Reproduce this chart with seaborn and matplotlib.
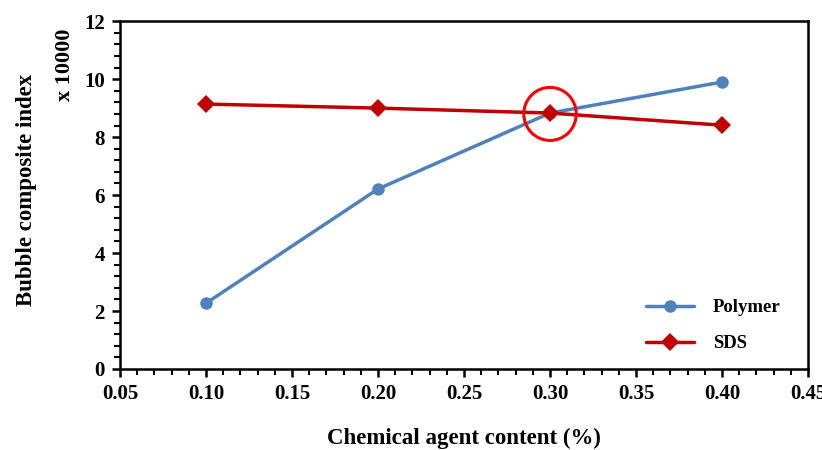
import matplotlib
matplotlib.use("Agg")
import matplotlib.pyplot as plt
from matplotlib.ticker import MultipleLocator, FormatStrFormatter
from matplotlib.patches import Ellipse
import pandas as pd
import seaborn as sns

content = [0.10, 0.20, 0.30, 0.40]
polymer = [2.27, 6.21, 8.83, 9.90]
sds = [9.14, 9.00, 8.83, 8.41]
series_names = ["Polymer", "SDS"]

df = pd.DataFrame({
    "content": content * 2,
    "index": polymer + sds,
    "agent": [series_names[0]] * len(content) + [series_names[1]] * len(content),
})

sns.set_style("ticks")
plt.rcParams["font.family"] = ["Liberation Serif", "DejaVu Serif"]
plt.rcParams["font.weight"] = "bold"
for key in ["text.color", "axes.labelcolor", "xtick.color", "ytick.color",
            "xtick.labelcolor", "ytick.labelcolor"]:
    plt.rcParams[key] = "black"

fig = plt.figure(figsize=(8.22, 4.5), dpi=100)
ax = fig.add_axes([0.146, 0.18, 0.837, 0.773])

palette = {"Polymer": "#4F81BD", "SDS": "#C00000"}
markers = {"Polymer": "o", "SDS": "D"}
sns.lineplot(data=df, x="content", y="index", hue="agent", style="agent",
             palette=palette, markers=markers, dashes=False, linewidth=2.5,
             markersize=9, markeredgewidth=0, ax=ax)

# highlight the crossing point
cx, cy = 0.30, 8.80
ax.add_patch(Ellipse((cx, cy), width=0.0305, height=1.83, fill=False,
                     edgecolor="#FF0000", linewidth=2.2, zorder=5))

ax.set_xlim(0.05, 0.45)
ax.set_ylim(0, 12)
ax.xaxis.set_major_locator(MultipleLocator(0.05))
ax.xaxis.set_minor_locator(MultipleLocator(0.01))
ax.yaxis.set_major_locator(MultipleLocator(2))
ax.yaxis.set_minor_locator(MultipleLocator(0.4))
ax.xaxis.set_major_formatter(FormatStrFormatter("%.2f"))
ax.yaxis.set_major_formatter(FormatStrFormatter("%d"))

for s in ax.spines.values():
    s.set_linewidth(1.8)
    s.set_color("black")
ax.tick_params(which="major", length=6, width=1.8, labelsize=15, direction="out",
               pad=5, colors="black")
ax.tick_params(which="minor", length=4, width=1.5, direction="out", colors="black")
for lab in ax.get_xticklabels() + ax.get_yticklabels():
    lab.set_fontweight("bold")

ax.set_xlabel("Chemical agent content (%)", fontsize=16.5, fontweight="bold",
              labelpad=17, color="black")
ax.set_ylabel("Bubble composite index", fontsize=16.5, fontweight="bold",
              color="black")
ax.yaxis.set_label_coords(-0.121, 0.515)
fig.text(0.079, 0.856, "x 10000", rotation=90, fontsize=16, fontweight="bold",
         ha="center", va="center", color="black")

leg = ax.legend(loc="lower right", bbox_to_anchor=(0.985, 0.0), frameon=False,
                prop={"family": "Liberation Serif", "weight": "bold", "size": 13.5},
                handlelength=2.6, labelspacing=1.0, handletextpad=1.0)
for t in leg.get_texts():
    t.set_color("black")

fig.savefig("out.png", dpi=100)
